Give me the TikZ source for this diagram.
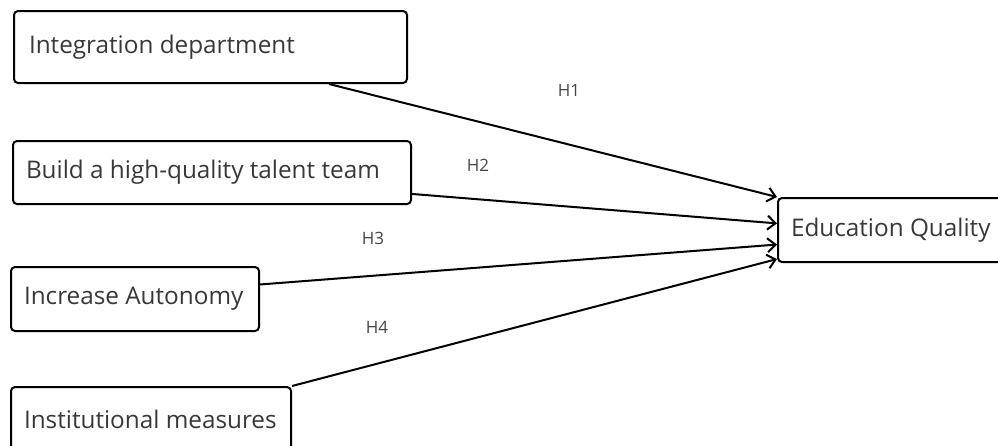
\documentclass[tikz,border=0pt]{standalone}
\usepackage{fontspec}
\setmainfont{Open Sans}
\usepackage{xcolor}
\usetikzlibrary{calc, arrows.meta}
\definecolor{textGray}{HTML}{383838}
\definecolor{labelGray}{HTML}{454545}
\newcommand{\boxtext}[2]{\makebox[#1][l]{#2}}

\begin{document}
\begin{tikzpicture}[x=1pt, y=-1pt,
    factor/.style={draw, line width=2pt, rounded corners=4pt, anchor=north west,
        inner xsep=13pt, text=textGray, font=\fontsize{24.3}{29}\selectfont},
    hyp/.style={text=labelGray, font=\fontsize{17}{20}\selectfont},
    link/.style={line width=2pt, -{Straight Barb[length=8pt,width=14pt]}}]
    \useasboundingbox (0,0) rectangle (998,445);
    \node[factor, minimum height=72pt, inner xsep=15pt] (integ) at (13,10) {\boxtext{363pt}{Integration department}};
    \node[factor, minimum height=63pt] (talent) at (12,140) {\boxtext{372pt}{Build a high-quality talent team}};
    \node[factor, minimum height=64pt] (autonomy) at (10,266) {\boxtext{222pt}{Increase Autonomy}};
    \node[factor, minimum height=64pt] (inst) at (10,386) {\boxtext{254pt}{Institutional measures}};
    \node[factor, minimum height=64pt] (quality) at (777,197) {\boxtext{204pt}{Education Quality}};
    % hypotheses
    \draw[link] ($(integ.south west)!0.8!(integ.south east)$) -- (quality.north west);
    \draw[link] ($(talent.north east)!0.83!(talent.south east)$) -- ($(quality.north west)!0.4!(quality.south west)$);
    \draw[link] ($(autonomy.north east)!0.28!(autonomy.south east)$) -- ($(quality.north west)!0.72!(quality.south west)$);
    \draw[link] (inst.north east) -- ($(quality.north west)!0.94!(quality.south west)$);
    \node[hyp] (h1) at (569,90) {H1};
    \node[hyp] (h2) at (478,165) {H2};
    \node[hyp] (h3) at (373,238) {H3};
    \node[hyp] (h4) at (377,327) {H4};
\end{tikzpicture}
\end{document}
